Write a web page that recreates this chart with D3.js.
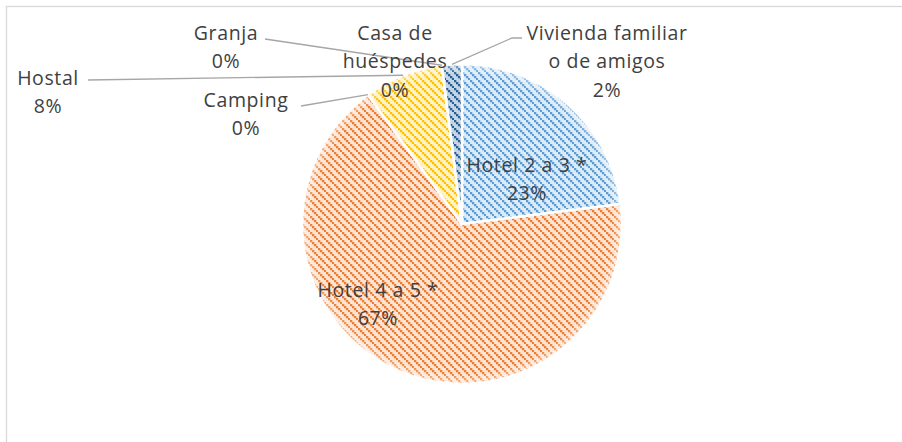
<!DOCTYPE html>
<html>
<head>
<meta charset="utf-8">
<script src="https://cdn.jsdelivr.net/npm/d3@7/dist/d3.min.js"></script>
<style>
  body { margin: 0; background: #fff; }
  text { font-family: "Open Sans", sans-serif; fill: #404040; }
</style>
</head>
<body>
<svg id="chart" width="902" height="442"></svg>
<script>
// slices, clockwise from 12 o'clock
var categories = ["Hotel 2 a 3 *", "Hotel 4 a 5 *", "Camping", "Hostal", "Granja", "Casa de huéspedes", "Vivienda familiar o de amigos"];
var values = [23, 67, 0, 8, 0, 0, 2];
var labelLines = [
  ["Hotel 2 a 3 *", "23%"],
  ["Hotel 4 a 5 *", "67%"],
  ["Camping", "0%"],
  ["Hostal", "8%"],
  ["Granja", "0%"],
  ["Casa de", "huéspedes", "0%"],
  ["Vivienda familiar", "o de amigos", "2%"]
];
var fgColors = ["#5B9BD5", "#ED7D31", "#A5A5A5", "#FFC000", "#4472C4", "#70AD47", "#255E91"];
var bgColors = ["#DDEBF7", "#FCE4D6", "#EDEDED", "#FFF2CC", "#D9E1F2", "#E2EFDA", "#C5D5E6"];

function setupChart() {
  var svg = d3.select("#chart"),
      cx = 462, cy = 224, r = 160;

  // chart frame (only top and left show inside the window)
  svg.append("rect")
    .attr("x", 6.5).attr("y", 6.5)
    .attr("width", 920).attr("height", 460)
    .attr("fill", "none")
    .attr("stroke", "#D9D9D9")
    .attr("stroke-width", 1.3)

  var defs = svg.append("defs")

  // dark downward diagonal fills
  categories.forEach((c, i) => {
    var p = defs.append("pattern")
      .attr("id", "pat" + i)
      .attr("patternUnits", "userSpaceOnUse")
      .attr("width", 8).attr("height", 8)
    p.append("rect").attr("width", 8).attr("height", 8).attr("fill", bgColors[i])
    ;[0, 2, 4, 6].forEach(k => {
      p.append("rect").attr("x", k).attr("y", k).attr("width", 2.3).attr("height", 2.3).attr("fill", fgColors[i])
    })
  })

  var glow = defs.append("radialGradient").attr("id", "soft")
  glow.append("stop").attr("offset", "0.93").attr("stop-color", "#fff").attr("stop-opacity", 0)
  glow.append("stop").attr("offset", "1").attr("stop-color", "#fff").attr("stop-opacity", 0.55)

  var pie = d3.pie().sort(null).value(d => d)
  var arcs = pie(values)

  var arc = d3.arc().innerRadius(0).outerRadius(r)

  var g = svg.append("g").attr("transform", "translate(" + cx + "," + cy + ")")

  g.selectAll("path.slice")
    .data(arcs)
    .enter().append("path")
      .attr("class", "slice")
      .attr("d", arc)
      .attr("fill", (d, i) => "url(#pat" + i + ")")
      .attr("stroke", "#fff")
      .attr("stroke-width", 2.5)
      .attr("stroke-linejoin", "round")

  g.append("circle").attr("r", r + 1).attr("fill", "url(#soft)")

  // label placement: [x, y of first line, leader start or null]
  var labelPos = [
    [527, 165, null],
    [378, 290, null],
    [246, 100, [301, 106]],
    [48, 78, [88, 80]],
    [226, 33, [265, 39]],
    [395, 33, null],
    [607, 33, [522, 38]]
  ]
  var lineH = 28.5

  // leader lines to slice edge
  arcs.forEach((d, i) => {
    var start = labelPos[i][2]
    if (!start) return
    var mid = (d.startAngle + d.endAngle) / 2
    var ex = cx + r * Math.sin(mid), ey = cy - r * Math.cos(mid)
    var pts = [start]
    if (start[0] > ex) pts.push([start[0] - 10, start[1]])
    pts.push([ex, ey])
    svg.append("polyline")
      .attr("points", pts.map(p => p.join(",")).join(" "))
      .attr("fill", "none")
      .attr("stroke", "#A6A6A6")
      .attr("stroke-width", 1.3)
  })

  labelLines.forEach((lines, i) => {
    var t = svg.append("text")
      .attr("text-anchor", "middle")
      .attr("font-size", 19.5)
      .attr("letter-spacing", 0.6)
    lines.forEach((s, k) => {
      t.append("tspan")
        .attr("x", labelPos[i][0])
        .attr("y", labelPos[i][1] + k * lineH)
        .attr("dy", "0.35em")
        .text(s)
    })
  })
}
setupChart()
</script>
</body>
</html>
